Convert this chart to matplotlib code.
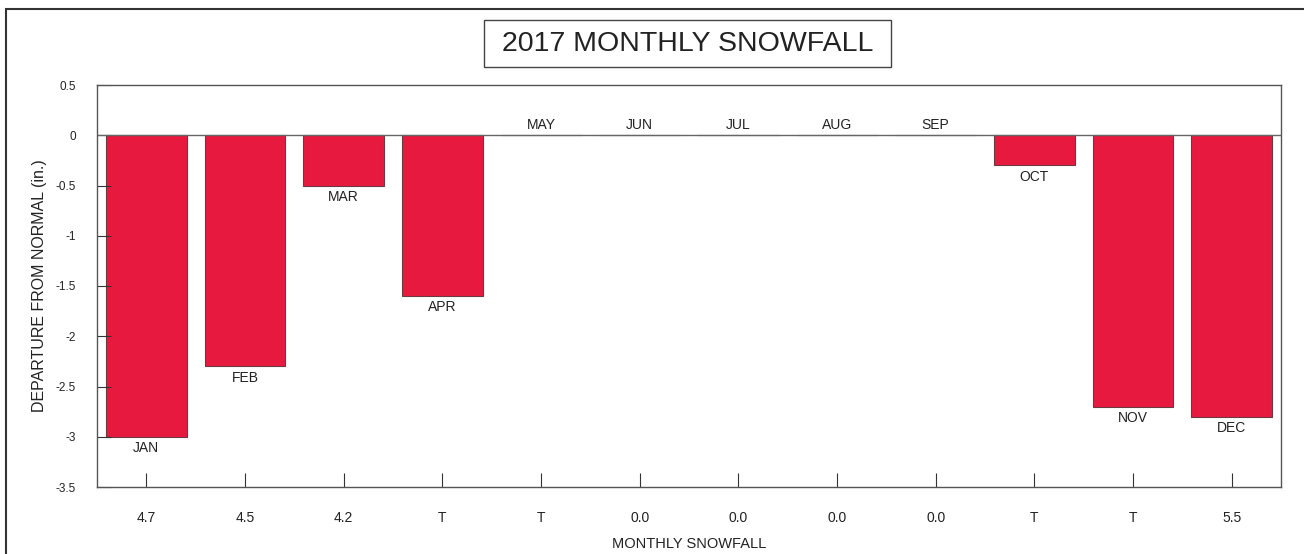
import matplotlib.pyplot as plt
from matplotlib.patches import Rectangle

months = ["JAN", "FEB", "MAR", "APR", "MAY", "JUN", "JUL", "AUG", "SEP", "OCT", "NOV", "DEC"]
departure = [-3.0, -2.3, -0.5, -1.6, 0.0, 0.0, 0.0, 0.0, 0.0, -0.3, -2.7, -2.8]
snowfall = ["4.7", "4.5", "4.2", "T", "T", "0.0", "0.0", "0.0", "0.0", "T", "T", "5.5"]

plt.rcParams['font.family'] = ['Liberation Sans', 'DejaVu Sans']

fig = plt.figure(figsize=(13.04, 5.54), dpi=100)
ax = fig.add_axes([97 / 1304, 1 - 487 / 554, 1184 / 1304, 402 / 554])

x = list(range(len(months)))
ax.bar(x, departure, width=0.82, color='#e8193f', edgecolor='#6a3a40', linewidth=0.8)

# month names under (or above, for zero) each bar
for i, (m, v) in enumerate(zip(months, departure)):
    if v < 0:
        ax.annotate(m, (i, v), xytext=(0, -3), textcoords='offset points',
                    ha='center', va='top', fontsize=10, color='#222222')
    else:
        ax.annotate(m, (i, v), xytext=(0, 2), textcoords='offset points',
                    ha='center', va='bottom', fontsize=10, color='#222222')

ax.axhline(0, color='#666666', linewidth=1.0)
ax.set_xlim(-0.5, 11.5)
ax.set_ylim(-3.5, 0.5)
ax.set_yticks([0.5, 0, -0.5, -1, -1.5, -2, -2.5, -3, -3.5])
ax.set_yticklabels(["0.5", "0", "-0.5", "-1", "-1.5", "-2", "-2.5", "-3", "-3.5"])
ax.set_xticks(x)
ax.set_xticklabels(snowfall)
ax.tick_params(axis='y', direction='in', length=10, pad=15, labelsize=8.5, colors='#333333')
ax.tick_params(axis='x', direction='in', length=10, pad=17, labelsize=10, colors='#333333')
for tl in ax.get_yticklabels() + ax.get_xticklabels():
    tl.set_color('#222222')
for s in ax.spines.values():
    s.set_color('#555555')
    s.set_linewidth(1.0)

ax.set_xlabel('MONTHLY SNOWFALL', fontsize=10.5, color='#222222', labelpad=9)
ax.set_ylabel('DEPARTURE FROM NORMAL (in.)', fontsize=11.5, color='#222222', labelpad=6)

# outer frame and title box
fig.patches.append(Rectangle((6 / 1304, -0.1), 1.2, 1 - 9 / 554 + 0.1, transform=fig.transFigure,
                             fill=False, edgecolor='#333333', linewidth=1.5))
fig.patches.append(Rectangle((484 / 1304, 1 - 67 / 554), 407 / 1304, 47 / 554, transform=fig.transFigure,
                             fill=False, edgecolor='#444444', linewidth=1.0))
fig.text(687.5 / 1304, 1 - 44 / 554, '2017 MONTHLY SNOWFALL', ha='center', va='center',
         fontsize=20.5, color='#222222')

plt.savefig('out.png', dpi=100)
plt.close()
